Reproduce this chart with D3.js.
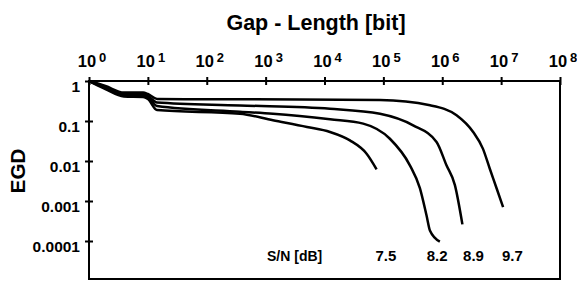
<!DOCTYPE html>
<html>
<head>
<meta charset="utf-8">
<script src="https://cdn.jsdelivr.net/npm/d3@7"></script>
<style>
  body { margin: 0; background: #fff; }
  svg text { font-family: "Liberation Sans", Arial, Helvetica, sans-serif; font-weight: bold; fill: #000; }
</style>
</head>
<body>
<div id="chart"></div>
<script>
// series: gap length [bit] vs EGD
var snLabels = ["7.5", "8.2", "8.9", "9.7"];

var gap75 = [1, 1.9, 3.9, 8.3, 10, 14.3, 366, 1330, 5040, 12400, 27000, 51900, 76700];
var egd75 = [1, 0.63, 0.41, 0.398, 0.355, 0.188, 0.152, 0.104, 0.0708, 0.0531, 0.0327, 0.0152, 0.0062];

var gap82 = [1, 1.9, 3.9, 8.3, 10, 14.3, 366, 1330, 12400, 45400, 129000, 282000, 417000, 540000, 620000, 910000];
var egd82 = [1, 0.67, 0.447, 0.434, 0.387, 0.237, 0.17, 0.152, 0.11, 0.086, 0.036, 0.0078, 0.0021, 0.00044, 0.00018, 0.000096];

var gap89 = [1, 1.9, 3.9, 8.3, 10, 14.3, 366, 12400, 87600, 320000, 800000, 1180000, 1640000, 2200000];
var egd89 = [1, 0.71, 0.487, 0.473, 0.42, 0.29, 0.245, 0.203, 0.152, 0.078, 0.0298, 0.0078, 0.0025, 0.00026];

var gap97 = [1, 1.9, 3.9, 8.3, 10, 14.3, 100, 3800, 87600, 620000, 1750000, 3350000, 4900000, 6400000, 8400000, 10800000];
var egd97 = [1, 0.75, 0.516, 0.516, 0.473, 0.355, 0.35, 0.345, 0.335, 0.247, 0.139, 0.053, 0.0204, 0.0065, 0.00205, 0.0007];

var xTicks = [1, 10, 100, 1e3, 1e4, 1e5, 1e6, 1e7, 1e8];
var yTicks = [1, 0.1, 0.01, 0.001, 0.0001];
var yTickLabels = ["1", "0.1", "0.01", "0.001", "0.0001"];

// where the S/N labels sit (gap length under each curve end)
var labelAt = [1.1e5, 8.2e5, 3.4e6, 1.55e7];

var svgWidth = 577;
var svgHeight = 282;

var svg = d3.select("#chart").append("svg")
    .attr("width", svgWidth)
    .attr("height", svgHeight);

var x = d3.scaleLog().domain([1, 1e8]).range([89, 560]);
var y = d3.scaleLog().domain([1e-5, 1]).range([281, 81]);
var bottomY = 279;

// frame
svg.append("rect")
    .attr("x", x(1))
    .attr("y", y(1))
    .attr("width", x(1e8) - x(1))
    .attr("height", bottomY - y(1))
    .attr("fill", "none")
    .attr("stroke", "#000")
    .attr("stroke-width", 2);

// top axis (ticks cross the frame)
var topAxis = svg.append("g")
    .attr("transform", `translate(0, ${y(1)})`)
    .call(d3.axisTop(x).tickValues(xTicks).tickFormat("").tickSizeOuter(0));
topAxis.select(".domain").remove();
topAxis.selectAll(".tick line")
    .attr("y1", -4).attr("y2", 4)
    .attr("stroke", "#000").attr("stroke-width", 2);

var xLab = svg.append("g").selectAll("text")
    .data(xTicks)
    .enter()
    .append("text")
    .attr("x", d => x(d) + 3)
    .attr("y", 67)
    .attr("text-anchor", "middle")
    .attr("font-size", "16.5px");
xLab.append("tspan").text("10");
xLab.append("tspan")
    .attr("dx", 3)
    .attr("dy", -5)
    .attr("font-size", "13px")
    .text(d => Math.round(Math.log10(d)));

// left axis
var leftAxis = svg.append("g")
    .attr("transform", `translate(${x(1)}, 0)`)
    .call(d3.axisLeft(y).tickValues(yTicks).tickFormat((d, i) => yTickLabels[i]).tickSizeOuter(0));
leftAxis.select(".domain").remove();
leftAxis.selectAll(".tick line")
    .attr("x1", -4).attr("x2", 4)
    .attr("stroke", "#000").attr("stroke-width", 2);
leftAxis.selectAll(".tick text")
    .attr("x", -9)
    .attr("dy", "10px")
    .attr("font-size", "15.5px")
    .attr("font-family", null);

// titles
svg.append("text")
    .attr("x", 316)
    .attr("y", 30)
    .attr("text-anchor", "middle")
    .attr("font-size", "21.5px")
    .text("Gap - Length [bit]");

svg.append("text")
    .attr("transform", "translate(25, 171) rotate(-90)")
    .attr("text-anchor", "middle")
    .attr("font-size", "20.5px")
    .text("EGD");

// curves
var series = [
    { gap: gap75, egd: egd75 },
    { gap: gap82, egd: egd82 },
    { gap: gap89, egd: egd89 },
    { gap: gap97, egd: egd97 }
];

var line = d3.line()
    .x(d => x(d[0]))
    .y(d => y(d[1]))
    .curve(d3.curveMonotoneX);

svg.append("g").selectAll("path")
    .data(series)
    .enter()
    .append("path")
    .attr("d", s => line(d3.zip(s.gap, s.egd)))
    .attr("fill", "none")
    .attr("stroke", "#000")
    .attr("stroke-width", 2.5)
    .attr("stroke-linejoin", "round");

// S/N labels
svg.append("text")
    .attr("x", 267)
    .attr("y", 261)
    .attr("font-size", "14px")
    .text("S/N [dB]");

svg.append("g").selectAll("text")
    .data(snLabels)
    .enter()
    .append("text")
    .attr("x", (d, i) => x(labelAt[i]))
    .attr("y", 261)
    .attr("text-anchor", "middle")
    .attr("font-size", "15px")
    .text(d => d);
</script>
</body>
</html>
